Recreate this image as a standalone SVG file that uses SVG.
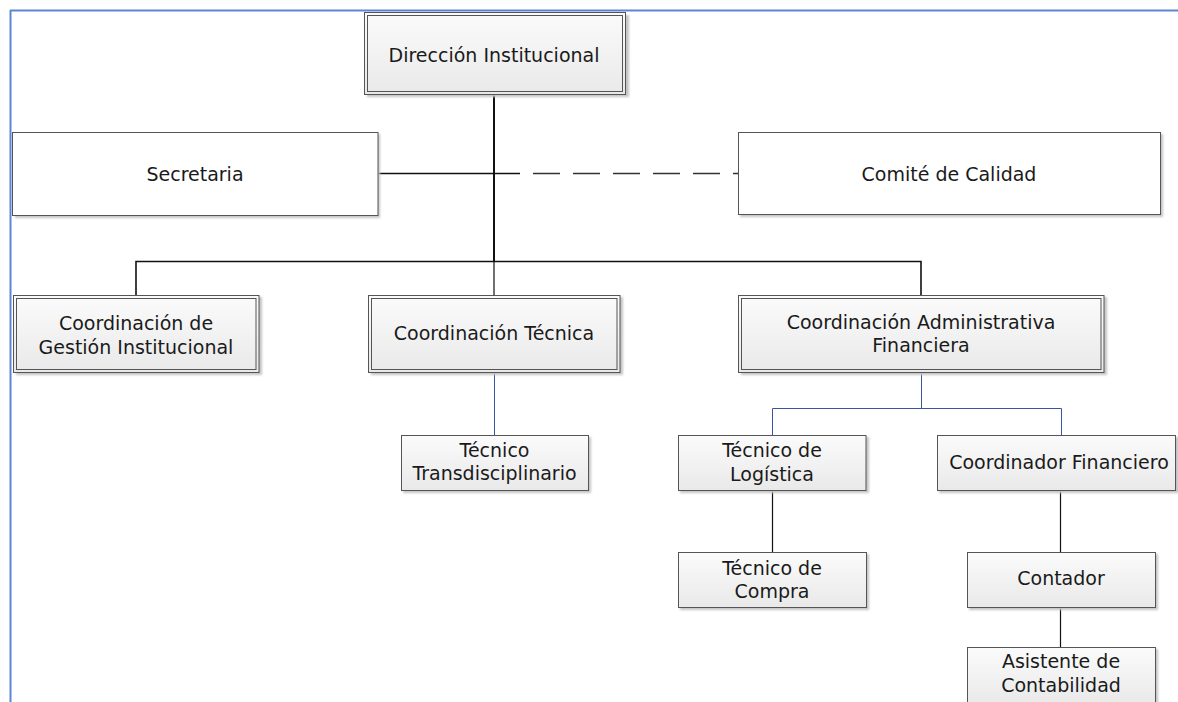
<svg xmlns="http://www.w3.org/2000/svg" width="1178" height="702" viewBox="0 0 1178 702">
<defs>
<linearGradient id="g" x1="0" y1="0" x2="0" y2="1">
<stop offset="0" stop-color="#fbfbfb"/>
<stop offset="1" stop-color="#e9e9e9"/>
</linearGradient>
<filter id="sh" x="-5%" y="-5%" width="115%" height="125%">
<feGaussianBlur stdDeviation="0.8"/>
</filter>
</defs>
<style>
.t{font-family:"DejaVu Sans","Liberation Sans",sans-serif;font-size:19px;fill:#1a1a1a;text-anchor:middle}
.sh{fill:#c4c4c4;filter:url(#sh)}
.box{fill:url(#g);stroke:#555;stroke-width:1}
.wbox{fill:#fff;stroke:#555;stroke-width:1}
.in{fill:none;stroke:#555;stroke-width:1}
.k{stroke:#111;fill:none}
.b{stroke:#3a55a0;fill:none;stroke-width:1}
</style>
<rect width="1178" height="702" fill="#fff"/>
<g id="frame">
<line x1="10" y1="10.5" x2="1178" y2="10.5" stroke="#5b86d6" stroke-width="2"/>
<line x1="10.5" y1="10" x2="10.5" y2="702" stroke="#5b86d6" stroke-width="2"/>
</g>
<g id="connectors">
<line class="k" x1="494" y1="95" x2="494" y2="262" stroke-width="2"/>
<line class="k" x1="378" y1="173.5" x2="520" y2="173.5" stroke-width="1.3"/>
<line x1="533" y1="173.5" x2="738" y2="173.5" stroke="#333" stroke-width="1.3" stroke-dasharray="27 13"/>
<polyline class="k" points="136,295 136,261.5 921,261.5 921,295" stroke-width="1.6"/>
<line class="k" x1="494" y1="261" x2="494" y2="295" stroke-width="1.2"/>
<line class="b" x1="494.5" y1="373" x2="494.5" y2="435"/>
<line class="b" x1="921.5" y1="373" x2="921.5" y2="408.5"/>
<polyline class="b" points="772.5,435 772.5,408.5 1061.5,408.5 1061.5,435"/>
<line class="k" x1="772.5" y1="490" x2="772.5" y2="552" stroke-width="1.2"/>
<line class="k" x1="1060.5" y1="490" x2="1060.5" y2="552" stroke-width="1.2"/>
<line class="k" x1="1060.5" y1="608" x2="1060.5" y2="647" stroke-width="1.2"/>
</g>
<g id="n-direccion">
<rect class="sh" x="367" y="15" width="262" height="82"/>
<rect class="box" x="364.5" y="12.5" width="261" height="82"/>
<rect class="in" x="367.5" y="15.5" width="255" height="76"/>
<text class="t" x="494" y="62">Dirección Institucional</text>
</g>
<g id="n-secretaria">
<rect class="sh" x="15" y="134" width="365" height="84"/>
<rect class="wbox" x="12.5" y="132.5" width="365.5" height="83"/>
<text class="t" x="195" y="181">Secretaria</text>
</g>
<g id="n-comite">
<rect class="sh" x="740" y="134" width="423" height="83"/>
<rect class="wbox" x="738.5" y="132.5" width="422" height="82"/>
<text class="t" x="949" y="181">Comité de Calidad</text>
</g>
<g id="n-gestion">
<rect class="sh" x="16" y="297" width="246" height="78"/>
<rect class="box" x="13.5" y="295.5" width="245.5" height="77"/>
<rect class="in" x="16.5" y="298.5" width="239.5" height="71"/>
<text class="t" x="136" y="330">Coordinación de</text>
<text class="t" x="136" y="354">Gestión Institucional</text>
</g>
<g id="n-tecnica">
<rect class="sh" x="371" y="297" width="252" height="78"/>
<rect class="box" x="368.5" y="295.5" width="251.5" height="77"/>
<rect class="in" x="371.5" y="298.5" width="245.5" height="71"/>
<text class="t" x="494" y="340">Coordinación Técnica</text>
</g>
<g id="n-administrativa">
<rect class="sh" x="741" y="297" width="366" height="78"/>
<rect class="box" x="738.5" y="295.5" width="365.5" height="77"/>
<rect class="in" x="741.5" y="298.5" width="359.5" height="71"/>
<text class="t" x="921" y="329">Coordinación Administrativa</text>
<text class="t" x="921" y="352">Financiera</text>
</g>
<g id="n-transdisciplinario">
<rect class="sh" x="403" y="437" width="188" height="56"/>
<rect class="box" x="401.5" y="435.5" width="187" height="55"/>
<text class="t" x="494.5" y="457">Técnico</text>
<text class="t" x="494.5" y="480">Transdisciplinario</text>
</g>
<g id="n-logistica">
<rect class="sh" x="680" y="437" width="189" height="56"/>
<rect class="box" x="678.5" y="435.5" width="187.5" height="55"/>
<text class="t" x="772" y="457">Técnico de</text>
<text class="t" x="772" y="481">Logística</text>
</g>
<g id="n-coordfin">
<rect class="sh" x="939" y="437" width="240" height="56"/>
<rect class="box" x="937.5" y="435.5" width="238" height="55"/>
<text class="t" x="1059" y="469">Coordinador Financiero</text>
</g>
<g id="n-compra">
<rect class="sh" x="680" y="554" width="189" height="56"/>
<rect class="box" x="678.5" y="552.5" width="188" height="55"/>
<text class="t" x="772" y="575">Técnico de</text>
<text class="t" x="772" y="598">Compra</text>
</g>
<g id="n-contador">
<rect class="sh" x="969" y="554" width="189" height="56"/>
<rect class="box" x="967.5" y="552.5" width="188" height="55"/>
<text class="t" x="1061" y="585">Contador</text>
</g>
<g id="n-asistente">
<rect class="sh" x="969" y="649" width="189" height="58"/>
<rect class="box" x="967.5" y="647.5" width="188" height="57"/>
<text class="t" x="1061" y="668">Asistente de</text>
<text class="t" x="1061" y="692">Contabilidad</text>
</g>
</svg>
